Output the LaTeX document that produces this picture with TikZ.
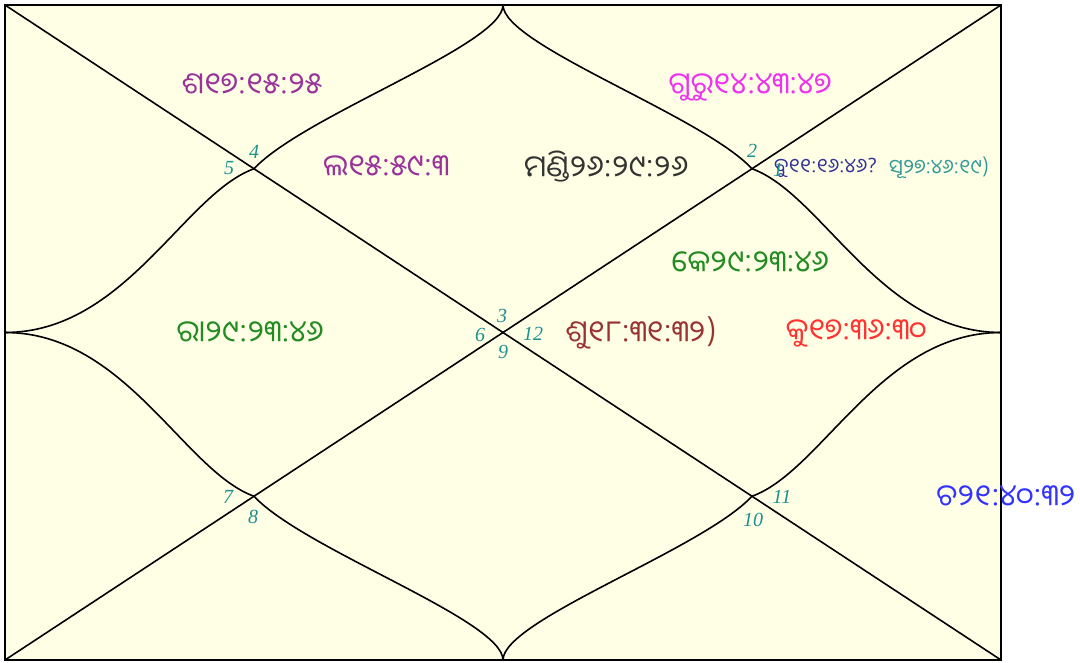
\documentclass[tikz,border=0pt]{standalone}
\usepackage{fontspec}
\newfontfamily\odia[Script=Oriya]{Noto Sans Oriya UI}
\newfontfamily\numfont{Liberation Serif}
\usetikzlibrary{calc}
\definecolor{bgyel}{HTML}{FFFFE6}
\definecolor{cpurple}{HTML}{993399}
\definecolor{cdark}{HTML}{333333}
\definecolor{cmag}{HTML}{EE33EE}
\definecolor{cindigo}{HTML}{333399}
\definecolor{cteal}{HTML}{339999}
\definecolor{cgreen}{HTML}{228B22}
\definecolor{cbrown}{HTML}{993333}
\definecolor{cred}{HTML}{FF3333}
\definecolor{cblue}{HTML}{3333FF}
\definecolor{cnum}{HTML}{1E9090}
\tikzset{
  chartline/.style={line width=1.6pt, black},
  planet/.style={font=\odia\fontsize{30}{30}\selectfont, inner sep=0pt},
  small planet/.style={font=\odia\fontsize{20}{20}\selectfont, inner sep=0pt},
  housenum/.style={font=\numfont\itshape\fontsize{20}{20}\selectfont, text=cnum, inner sep=0pt}
}
\begin{document}
\begin{tikzpicture}[x=1pt,y=-1pt]
\useasboundingbox (0,0) rectangle (1080,662);
\fill[white] (0,0) rectangle (1080,662);
% frame corners and mid points
\coordinate (TL) at (5,5);
\coordinate (TR) at (1001,5);
\coordinate (BR) at (1001,660);
\coordinate (BL) at (5,660);
\coordinate (T) at (503,5);
\coordinate (R) at (1001,332.5);
\coordinate (Bo) at (503,660);
\coordinate (L) at (5,332.5);
\coordinate (B1) at (254,168.75);
\coordinate (B2) at (752,168.75);
\coordinate (B3) at (254,496.25);
\coordinate (B4) at (752,496.25);
\fill[bgyel] (TL) rectangle (BR);
% diagonals
\draw[chartline] (TL) -- (BR);
\draw[chartline] (TR) -- (BL);
% curves
\draw[chartline] (L) .. controls (125,332.5) and (184,193.95) .. (B1);
\draw[chartline] (T) .. controls (503,45) and (304,115.25) .. (B1);
\draw[chartline] (T) .. controls (503,45) and (702,115.25) .. (B2);
\draw[chartline] (R) .. controls (881,332.5) and (822,193.95) .. (B2);
\draw[chartline] (R) .. controls (881,332.5) and (822,471.05) .. (B4);
\draw[chartline] (Bo) .. controls (503,620) and (702,549.75) .. (B4);
\draw[chartline] (Bo) .. controls (503,620) and (304,549.75) .. (B3);
\draw[chartline] (L) .. controls (125,332.5) and (184,471.05) .. (B3);
% frame
\draw[line width=2pt] (TL) rectangle (BR);
% planets
\node[planet, text=cpurple] (sa) at (252,85) {ଶ୧୭:୧୫:୨୫};
\node[planet, text=cpurple] (la) at (386,167) {ଲ୧୫:୫୯:୩};
\node[planet, text=cdark] (ma) at (606,167) {ମଣ୍ଡି୨୬:୨୯:୨୬};
\node[planet, text=cmag] (gu) at (750,87) {ଗୁରୁ୧୪:୪୩:୪୭};
\node[small planet, text=cindigo, anchor=west] (bu) at (774,168) {ବୁ୧୧:୧୬:୪୬?};
\node[small planet, text=cteal, anchor=west] (su) at (889,168) {ସୂ୨୭:୪୬:୧୯)};
\node[planet, text=cgreen] (ke) at (750,263) {କେ୨୯:୨୩:୪୬};
\node[planet, text=cgreen] (ra) at (250,333) {ରା୨୯:୨୩:୪୬};
\node[planet, text=cbrown] (sh) at (641,333) {ଶୁ୧୮:୩୧:୩୨)};
\node[planet, text=cred] (ku) at (856,333) {କୁ୧୭:୩୬:୩୦};
\node[planet, text=cblue] (ch) at (1006,497) {ଚ୨୧:୪୦:୩୨};
% house numbers
\node[housenum] (h4) at (254,152) {4};
\node[housenum] (h5) at (229,168) {5};
\node[housenum] (h3) at (502,316) {3};
\node[housenum] (h6) at (480,335) {6};
\node[housenum] (h12) at (533,334) {12};
\node[housenum] (h9) at (503,352) {9};
\node[housenum] (h2) at (752,151) {2};
\node[housenum] (h1) at (778,170) {1};
\node[housenum] (h7) at (228,497) {7};
\node[housenum] (h8) at (253,517) {8};
\node[housenum] (h11) at (782,497) {11};
\node[housenum] (h10) at (753,520) {10};
\end{tikzpicture}
\end{document}
